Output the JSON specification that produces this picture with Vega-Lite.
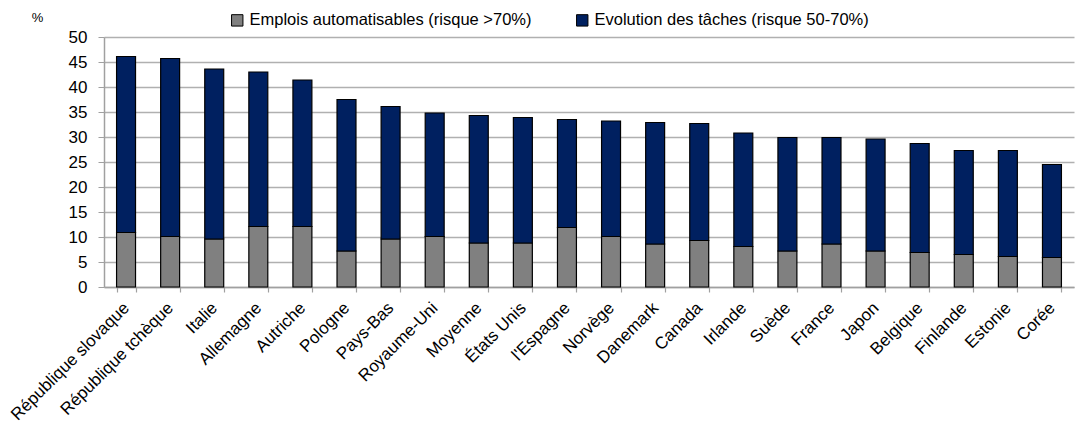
{
  "$schema": "https://vega.github.io/schema/vega-lite/v6.json",
  "width": 970,
  "height": 250,
  "autosize": "none",
  "padding": {"left": 104, "top": 37, "right": 11, "bottom": 141},
  "background": "white",
  "config": {"font": "Liberation Sans", "view": {"stroke": null}},
  "data": {
    "values": [
      {"pays": "République slovaque", "serie": "Emplois automatisables (risque >70%)", "valeur": 10.9},
      {"pays": "République slovaque", "serie": "Evolution des tâches (risque 50-70%)", "valeur": 35.2},
      {"pays": "République tchèque", "serie": "Emplois automatisables (risque >70%)", "valeur": 10.1},
      {"pays": "République tchèque", "serie": "Evolution des tâches (risque 50-70%)", "valeur": 35.6},
      {"pays": "Italie", "serie": "Emplois automatisables (risque >70%)", "valeur": 9.6},
      {"pays": "Italie", "serie": "Evolution des tâches (risque 50-70%)", "valeur": 34.0},
      {"pays": "Allemagne", "serie": "Emplois automatisables (risque >70%)", "valeur": 12.1},
      {"pays": "Allemagne", "serie": "Evolution des tâches (risque 50-70%)", "valeur": 30.9},
      {"pays": "Autriche", "serie": "Emplois automatisables (risque >70%)", "valeur": 12.1},
      {"pays": "Autriche", "serie": "Evolution des tâches (risque 50-70%)", "valeur": 29.3},
      {"pays": "Pologne", "serie": "Emplois automatisables (risque >70%)", "valeur": 7.2},
      {"pays": "Pologne", "serie": "Evolution des tâches (risque 50-70%)", "valeur": 30.3},
      {"pays": "Pays-Bas", "serie": "Emplois automatisables (risque >70%)", "valeur": 9.6},
      {"pays": "Pays-Bas", "serie": "Evolution des tâches (risque 50-70%)", "valeur": 26.5},
      {"pays": "Royaume-Uni", "serie": "Emplois automatisables (risque >70%)", "valeur": 10.1},
      {"pays": "Royaume-Uni", "serie": "Evolution des tâches (risque 50-70%)", "valeur": 24.7},
      {"pays": "Moyenne", "serie": "Emplois automatisables (risque >70%)", "valeur": 8.8},
      {"pays": "Moyenne", "serie": "Evolution des tâches (risque 50-70%)", "valeur": 25.5},
      {"pays": "États Unis", "serie": "Emplois automatisables (risque >70%)", "valeur": 8.8},
      {"pays": "États Unis", "serie": "Evolution des tâches (risque 50-70%)", "valeur": 25.1},
      {"pays": "l'Espagne", "serie": "Emplois automatisables (risque >70%)", "valeur": 11.9},
      {"pays": "l'Espagne", "serie": "Evolution des tâches (risque 50-70%)", "valeur": 21.6},
      {"pays": "Norvège", "serie": "Emplois automatisables (risque >70%)", "valeur": 10.1},
      {"pays": "Norvège", "serie": "Evolution des tâches (risque 50-70%)", "valeur": 23.1},
      {"pays": "Danemark", "serie": "Emplois automatisables (risque >70%)", "valeur": 8.6},
      {"pays": "Danemark", "serie": "Evolution des tâches (risque 50-70%)", "valeur": 24.3},
      {"pays": "Canada", "serie": "Emplois automatisables (risque >70%)", "valeur": 9.3},
      {"pays": "Canada", "serie": "Evolution des tâches (risque 50-70%)", "valeur": 23.4},
      {"pays": "Irlande", "serie": "Emplois automatisables (risque >70%)", "valeur": 8.1},
      {"pays": "Irlande", "serie": "Evolution des tâches (risque 50-70%)", "valeur": 22.7},
      {"pays": "Suède", "serie": "Emplois automatisables (risque >70%)", "valeur": 7.2},
      {"pays": "Suède", "serie": "Evolution des tâches (risque 50-70%)", "valeur": 22.7},
      {"pays": "France", "serie": "Emplois automatisables (risque >70%)", "valeur": 8.6},
      {"pays": "France", "serie": "Evolution des tâches (risque 50-70%)", "valeur": 21.3},
      {"pays": "Japon", "serie": "Emplois automatisables (risque >70%)", "valeur": 7.2},
      {"pays": "Japon", "serie": "Evolution des tâches (risque 50-70%)", "valeur": 22.4},
      {"pays": "Belgique", "serie": "Emplois automatisables (risque >70%)", "valeur": 6.9},
      {"pays": "Belgique", "serie": "Evolution des tâches (risque 50-70%)", "valeur": 21.8},
      {"pays": "Finlande", "serie": "Emplois automatisables (risque >70%)", "valeur": 6.5},
      {"pays": "Finlande", "serie": "Evolution des tâches (risque 50-70%)", "valeur": 20.8},
      {"pays": "Estonie", "serie": "Emplois automatisables (risque >70%)", "valeur": 6.1},
      {"pays": "Estonie", "serie": "Evolution des tâches (risque 50-70%)", "valeur": 21.2},
      {"pays": "Corée", "serie": "Emplois automatisables (risque >70%)", "valeur": 5.9},
      {"pays": "Corée", "serie": "Evolution des tâches (risque 50-70%)", "valeur": 18.6}
    ]
  },
  "mark": {"type": "bar", "stroke": "black", "strokeWidth": 1.2},
  "encoding": {
    "x": {
      "field": "pays",
      "type": "nominal",
      "sort": null,
      "scale": {"paddingInner": 0.57, "paddingOuter": 0.285},
      "axis": {
        "title": null,
        "labelAngle": -45,
        "labelAlign": "right",
        "labelBaseline": "middle",
        "labelFontSize": 17,
        "labelColor": "#000000",
        "tickBand": "extent",
        "domainColor": "#a0a0a0",
        "domainWidth": 1.5,
        "tickColor": "#a0a0a0",
        "tickWidth": 1.2,
        "tickSize": 5,
        "labelPadding": 13
      }
    },
    "y": {
      "field": "valeur",
      "type": "quantitative",
      "stack": "zero",
      "scale": {"domain": [0, 50]},
      "axis": {
        "title": "%",
        "titleAngle": 0,
        "titleAlign": "center",
        "titleBaseline": "middle",
        "titleX": -67,
        "titleY": -20,
        "titleFontSize": 13,
        "titleFontWeight": "normal",
        "titleColor": "#000000",
        "values": [0, 5, 10, 15, 20, 25, 30, 35, 40, 45, 50],
        "grid": true,
        "gridColor": "#b0b0b0",
        "gridWidth": 1.5,
        "domainColor": "#a0a0a0",
        "domainWidth": 1.5,
        "tickColor": "#a0a0a0",
        "tickSize": 6,
        "labelFontSize": 17,
        "labelColor": "#000000",
        "labelPadding": 11
      }
    },
    "color": {
      "field": "serie",
      "type": "nominal",
      "scale": {
        "domain": ["Emplois automatisables (risque >70%)", "Evolution des tâches (risque 50-70%)"],
        "range": ["#808080", "#002060"]
      },
      "legend": {
        "title": null,
        "orient": "none",
        "direction": "horizontal",
        "legendX": 125,
        "legendY": -25,
        "padding": 0,
        "symbolType": "square",
        "symbolSize": 130,
        "symbolStrokeColor": "black",
        "symbolStrokeWidth": 1,
        "labelFontSize": 16.5,
        "labelColor": "#000000",
        "labelOffset": 4,
        "columnPadding": 42,
        "labelLimit": 400
      }
    },
    "order": {"field": "serie", "sort": "ascending"}
  }
}
